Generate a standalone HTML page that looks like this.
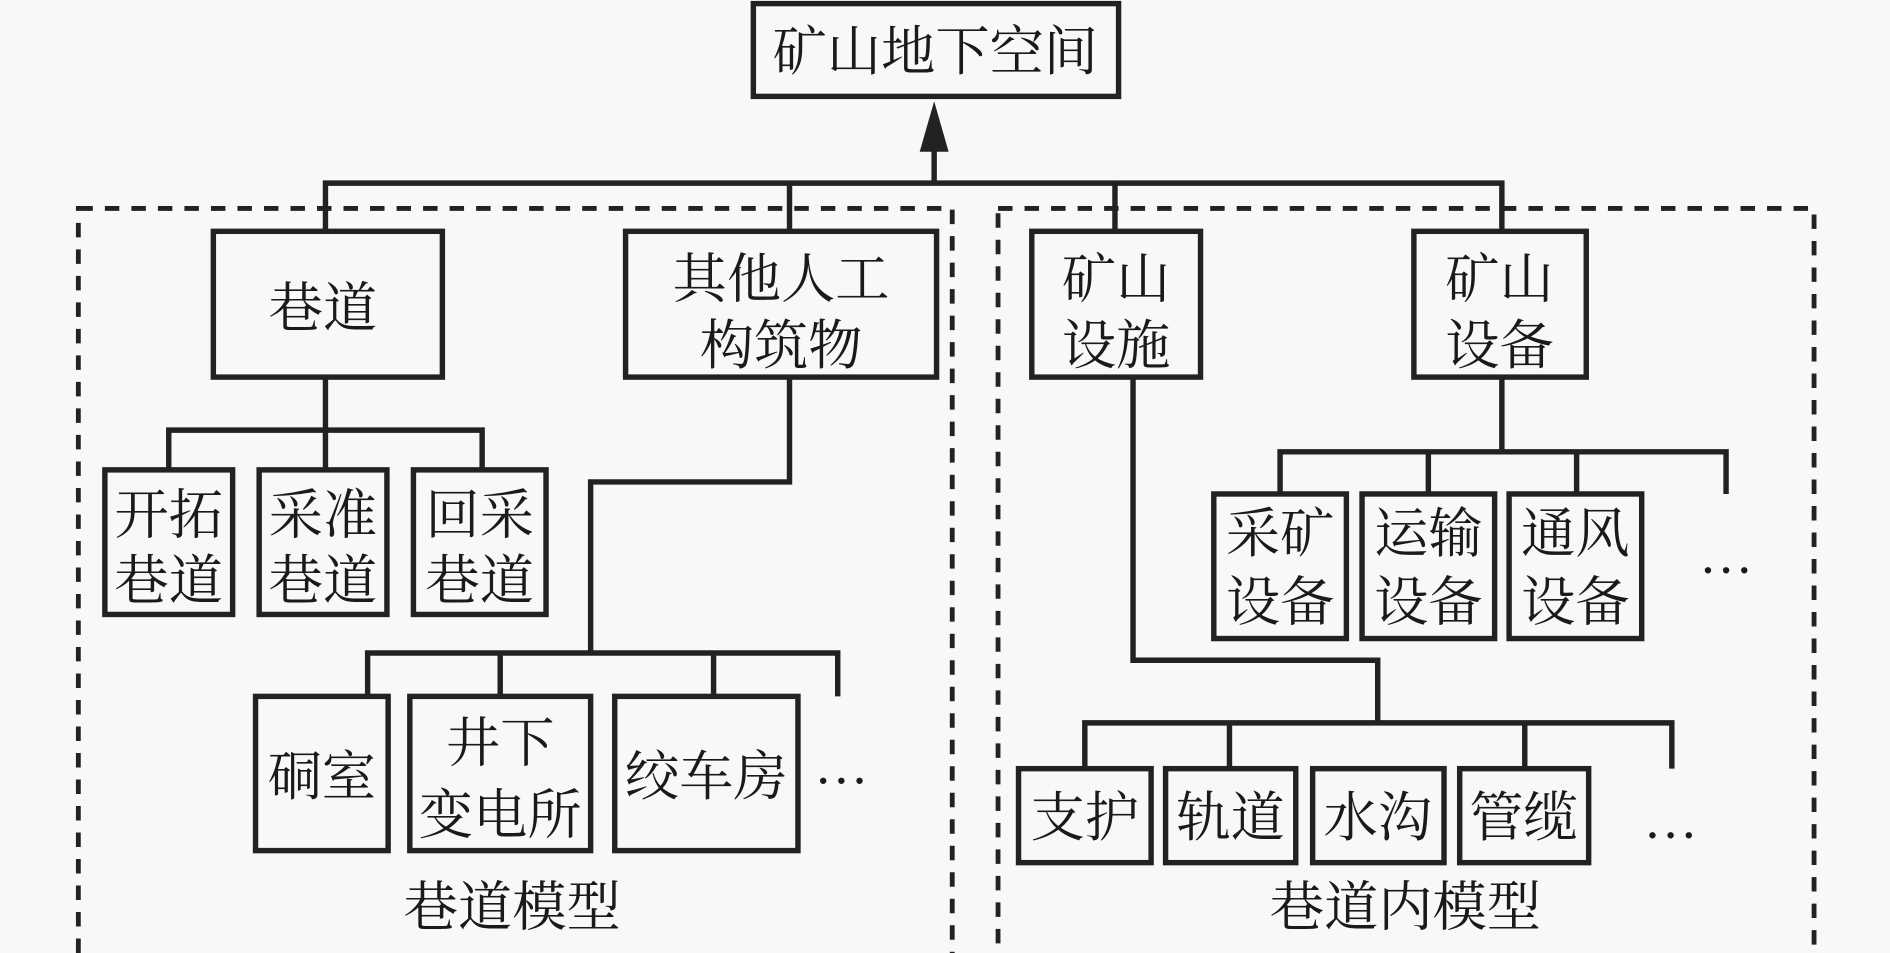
<!DOCTYPE html>
<html><head><meta charset="utf-8"><style>
html,body{margin:0;padding:0;background:#f8f8f8;}
svg{display:block;}
text{font-family:"Liberation Serif","Noto Serif CJK SC",serif;font-size:45px;fill:#1a1a1a;text-anchor:middle;}
</style></head><body>
<svg width="1890" height="953" viewBox="0 0 1568 791" preserveAspectRatio="none" xmlns="http://www.w3.org/2000/svg">
<rect width="1568" height="791" fill="#f8f8f8"/>
<g fill="none" stroke="#222" stroke-width="4.5">
<rect x="65" y="173" width="725" height="640" stroke-dasharray="12,10" stroke-width="4"/>
<rect x="828" y="173" width="677" height="640" stroke-dasharray="12,10" stroke-width="4"/>
<rect x="625" y="3" width="303" height="77" fill="#f8f8f8"/>
<line x1="775" y1="152" x2="775" y2="110"/>
<polyline points="270,192 270,152 1246,152 1246,192"/>
<line x1="655" y1="152" x2="655" y2="192"/>
<line x1="925" y1="152" x2="925" y2="192"/>
<rect x="177" y="192" width="190" height="121" fill="#f8f8f8"/>
<rect x="519" y="192" width="258" height="121" fill="#f8f8f8"/>
<rect x="856" y="192" width="140" height="121" fill="#f8f8f8"/>
<rect x="1173" y="192" width="143" height="121" fill="#f8f8f8"/>
<line x1="270" y1="313" x2="270" y2="390"/>
<polyline points="140,390 140,357 400,357 400,390"/>
<rect x="87" y="390" width="106" height="120" fill="#f8f8f8"/>
<rect x="215" y="390" width="106" height="120" fill="#f8f8f8"/>
<rect x="343" y="390" width="110" height="120" fill="#f8f8f8"/>
<polyline points="655,313 655,400 490,400 490,542"/>
<polyline points="305,578 305,542 695,542 695,578"/>
<line x1="415" y1="542" x2="415" y2="578"/>
<line x1="592" y1="542" x2="592" y2="578"/>
<rect x="212" y="578" width="110" height="128" fill="#f8f8f8"/>
<rect x="340" y="578" width="150" height="128" fill="#f8f8f8"/>
<rect x="510" y="578" width="152" height="128" fill="#f8f8f8"/>
<line x1="1246" y1="313" x2="1246" y2="375"/>
<polyline points="1062,410 1062,375 1432,375 1432,410"/>
<line x1="1185" y1="375" x2="1185" y2="410"/>
<line x1="1308" y1="375" x2="1308" y2="410"/>
<rect x="1007" y="410" width="110" height="120" fill="#f8f8f8"/>
<rect x="1130" y="410" width="110" height="120" fill="#f8f8f8"/>
<rect x="1252" y="410" width="110" height="120" fill="#f8f8f8"/>
<polyline points="940,313 940,548 1143,548 1143,600"/>
<polyline points="900,638 900,600 1387,600 1387,638"/>
<line x1="1020" y1="600" x2="1020" y2="638"/>
<line x1="1265" y1="600" x2="1265" y2="638"/>
<rect x="845" y="638" width="110" height="78" fill="#f8f8f8"/>
<rect x="967" y="638" width="108" height="78" fill="#f8f8f8"/>
<rect x="1089" y="638" width="109" height="78" fill="#f8f8f8"/>
<rect x="1211" y="638" width="107" height="78" fill="#f8f8f8"/>
</g>
<polygon points="775,84 763,126 787,126" fill="#222"/>
<text x="776" y="58" font-size="48">矿山地下空间</text>
<text x="268" y="271" font-size="48">巷道</text>
<text x="648" y="247" font-size="48">其他人工</text>
<text x="648" y="302" font-size="48">构筑物</text>
<text x="926" y="247" font-size="48">矿山</text>
<text x="926" y="302" font-size="48">设施</text>
<text x="1244" y="247" font-size="48">矿山</text>
<text x="1244" y="302" font-size="48">设备</text>
<text x="140" y="443">开拓</text><text x="140" y="497">巷道</text>
<text x="268" y="443">采准</text><text x="268" y="497">巷道</text>
<text x="398" y="443">回采</text><text x="398" y="497">巷道</text>
<text x="267" y="660">硐室</text>
<text x="415" y="632">井下</text><text x="415" y="692">变电所</text>
<text x="586" y="660">绞车房</text>
<text x="698" y="650">…</text>
<text x="1062" y="458">采矿</text><text x="1062" y="515">设备</text>
<text x="1185" y="458">运输</text><text x="1185" y="515">设备</text>
<text x="1307" y="458">通风</text><text x="1307" y="515">设备</text>
<text x="1432" y="475">…</text>
<text x="900" y="694">支护</text>
<text x="1021" y="694">轨道</text>
<text x="1143" y="694">水沟</text>
<text x="1264" y="694">管缆</text>
<text x="1386" y="695">…</text>
<text x="425" y="768" font-size="46">巷道模型</text>
<text x="1166" y="768" font-size="46">巷道内模型</text>
</svg>
</body></html>
